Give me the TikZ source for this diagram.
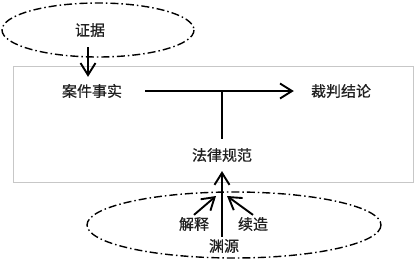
\documentclass[tikz,border=0pt]{standalone}
\usepackage{fontspec}
\setmainfont{Noto Sans CJK SC}[BoldFont={Noto Sans CJK SC},BoldFeatures={FakeBold=0.6}]
\usetikzlibrary{arrows.meta}
\begin{document}
\begin{tikzpicture}[x=1pt,y=-1pt,
  lbl/.style={font=\fontsize{15}{18}\selectfont\bfseries, text=black!88, inner sep=2pt},
  conn/.style={line width=1.9pt, -{Straight Barb[length=12pt,width=15pt,line width=1.9pt]}},
  dd/.style={line width=1.4pt, dash pattern=on 8pt off 3pt on 1.5pt off 3pt},
  frame/.style={draw=black!22, line width=0.9pt}]
\useasboundingbox (0,0) rectangle (418,260);
% frame
\draw[frame] (13,66) rectangle (413,182);
% ellipses
\draw[dd] (98,30) ellipse [x radius=96, y radius=27];
\draw[dd] (234,225) ellipse [x radius=147, y radius=33];
% nodes
\node[lbl] (zj) at (90,30) {证据};
\node[lbl] (ajss) at (92,91) {案件事实};
\node[lbl] (cpjl) at (341,91) {裁判结论};
\node[lbl] (fl) at (222,155) {法律规范};
\node[lbl] (jsh) at (194,224) {解释};
\node[lbl] (xz) at (253,224) {续造};
\node[lbl] (yy) at (224,246) {渊源};
\coordinate (tipL) at (216,196);
\coordinate (tipR) at (227,196);
% connectors
\draw[conn, shorten <=8pt, shorten >=5pt] (zj.south -| 88,0) -- (ajss.north -| 88,0);
\draw[conn, shorten <=21pt, shorten >=15pt] (ajss.east) -- (cpjl.west);
\draw[line width=1.7pt, shorten <=7pt] (fl.north) -- (fl.north |- ajss.east);
\draw[conn, shorten >=7pt, shorten <=0pt] (fl.south |- yy.north) -- (fl.south);
\draw[conn] (jsh.north) -- (tipL);
\draw[conn] (xz.north) -- (tipR);
\end{tikzpicture}
\end{document}
